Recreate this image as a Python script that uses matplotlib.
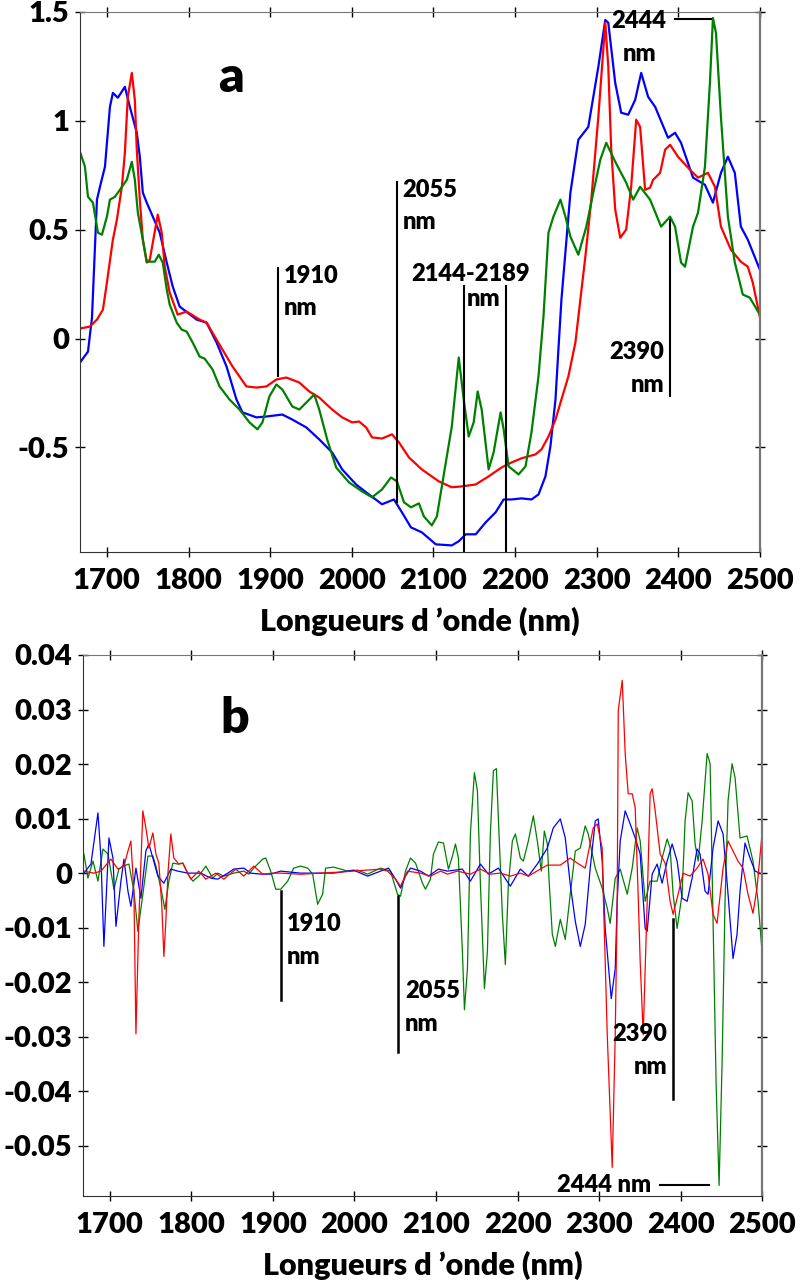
import matplotlib
matplotlib.use("Agg")
import matplotlib.pyplot as plt

plt.rcParams['font.family'] = ['Lato', 'DejaVu Sans']
plt.rcParams['font.weight'] = 'heavy'
plt.rcParams['lines.solid_joinstyle'] = 'round'

# ---- panel a : spectra ----
wl_a_blue = [1667.0, 1676.8, 1681.7, 1687.8, 1691.5, 1697.6, 1703.7, 1707.3, 1713.4, 1722.0, 1728.1, 1736.6,
             1740.3, 1744.0, 1748.8, 1756.2, 1764.7, 1773.3, 1780.6, 1789.1, 1809.9, 1822.1, 1834.3, 1846.5,
             1858.7, 1866.1, 1883.2, 1895.4, 1914.9, 1927.1, 1944.2, 1960.1, 1975.9, 1988.2, 2005.2, 2017.5,
             2037.0, 2051.6, 2061.4, 2072.4, 2085.8, 2102.9, 2122.5, 2131.0, 2139.6, 2151.8, 2164.0, 2176.2,
             2186.0, 2195.7, 2207.9, 2220.1, 2228.7, 2237.2, 2243.3, 2249.5, 2253.1, 2256.8, 2267.8, 2277.5,
             2289.7, 2302.0, 2310.5, 2314.2, 2322.7, 2330.0, 2338.6, 2347.1, 2354.5, 2363.0, 2371.6, 2387.4,
             2396.0, 2403.3, 2418.0, 2432.6, 2442.4, 2452.2, 2460.7, 2469.2, 2476.6, 2485.1, 2499.8]
a_blue = [-0.110, -0.060, 0.096, 0.638, 0.697, 0.789, 1.064, 1.128, 1.106, 1.156, 1.064, 0.945,
          0.835, 0.670, 0.624, 0.560, 0.486, 0.349, 0.239, 0.147, 0.087, 0.073, -0.018, -0.128,
          -0.280, -0.339, -0.362, -0.358, -0.349, -0.372, -0.408, -0.463, -0.523, -0.601, -0.670, -0.706,
          -0.761, -0.739, -0.798, -0.867, -0.890, -0.945, -0.950, -0.931, -0.899, -0.899, -0.844, -0.798,
          -0.739, -0.739, -0.734, -0.739, -0.716, -0.633, -0.495, -0.280, -0.050, 0.179, 0.670, 0.913,
          0.972, 1.248, 1.463, 1.450, 1.174, 1.037, 1.028, 1.096, 1.220, 1.110, 1.064, 0.922,
          0.945, 0.899, 0.739, 0.706, 0.624, 0.761, 0.835, 0.761, 0.514, 0.454, 0.317]

wl_a_red = [1667.0, 1679.2, 1687.8, 1695.1, 1700.0, 1707.3, 1712.2, 1718.3, 1722.0, 1725.6, 1730.5, 1734.2,
            1736.6, 1740.3, 1744.0, 1748.8, 1752.5, 1756.2, 1762.3, 1767.2, 1770.8, 1776.9, 1786.7, 1797.7,
            1813.6, 1822.1, 1834.3, 1853.8, 1870.9, 1883.2, 1895.4, 1907.6, 1919.8, 1935.7, 1947.9, 1960.1,
            1975.9, 1988.2, 2000.4, 2008.9, 2017.5, 2024.8, 2037.0, 2049.2, 2057.8, 2070.0, 2085.8, 2106.6,
            2122.5, 2134.7, 2151.8, 2167.6, 2183.5, 2195.7, 2207.9, 2225.0, 2232.4, 2240.9, 2249.5, 2256.8,
            2265.3, 2273.9, 2286.1, 2293.4, 2302.0, 2310.5, 2314.2, 2317.8, 2322.7, 2328.8, 2336.1, 2342.2,
            2348.4, 2353.2, 2359.3, 2365.4, 2369.1, 2377.7, 2383.8, 2389.9, 2399.6, 2414.3, 2424.1, 2436.3,
            2444.8, 2452.2, 2464.4, 2476.6, 2485.1, 2491.2, 2499.8]
a_red = [0.046, 0.055, 0.087, 0.133, 0.257, 0.454, 0.546, 0.697, 0.853, 1.110, 1.220, 1.096,
         0.867, 0.638, 0.454, 0.349, 0.362, 0.440, 0.569, 0.486, 0.330, 0.211, 0.110, 0.124,
         0.087, 0.073, -0.005, -0.128, -0.220, -0.225, -0.220, -0.188, -0.179, -0.202, -0.243, -0.271,
         -0.326, -0.362, -0.385, -0.381, -0.408, -0.454, -0.459, -0.440, -0.477, -0.546, -0.601, -0.656,
         -0.683, -0.679, -0.670, -0.633, -0.592, -0.569, -0.550, -0.532, -0.509, -0.450, -0.372, -0.280,
         -0.174, -0.018, 0.376, 0.638, 1.018, 1.450, 1.248, 0.867, 0.592, 0.463, 0.500, 0.697,
         1.005, 0.972, 0.683, 0.693, 0.729, 0.761, 0.867, 0.890, 0.835, 0.775, 0.739, 0.761,
         0.697, 0.514, 0.408, 0.353, 0.330, 0.257, 0.101]

wl_a_green = [1667.0, 1673.1, 1676.8, 1682.9, 1689.0, 1693.9, 1700.0, 1703.7, 1709.8, 1715.9, 1724.4, 1730.5,
              1734.2, 1737.9, 1744.0, 1748.8, 1758.6, 1763.5, 1768.4, 1773.3, 1776.9, 1785.5, 1791.6, 1797.7,
              1805.0, 1813.6, 1819.7, 1829.4, 1838.0, 1850.2, 1862.4, 1874.6, 1884.4, 1890.5, 1899.0, 1907.6,
              1914.9, 1927.1, 1935.7, 1944.2, 1954.0, 1960.1, 1969.8, 1980.8, 1996.7, 2012.6, 2024.8, 2037.0,
              2048.0, 2055.3, 2063.9, 2072.4, 2082.2, 2088.3, 2098.0, 2104.2, 2110.3, 2116.4, 2122.5, 2131.0,
              2137.1, 2143.2, 2149.3, 2154.2, 2159.1, 2167.6, 2173.7, 2182.3, 2186.0, 2192.1, 2204.3, 2212.8,
              2220.1, 2228.7, 2234.8, 2240.9, 2247.0, 2255.6, 2261.7, 2267.8, 2277.5, 2287.3, 2295.8, 2304.4,
              2311.7, 2322.7, 2336.1, 2344.7, 2353.2, 2365.4, 2378.9, 2389.9, 2396.0, 2403.3, 2408.2, 2418.0,
              2424.1, 2432.6, 2438.7, 2442.4, 2446.1, 2452.2, 2460.7, 2469.2, 2479.0, 2487.5, 2494.8, 2499.8]
a_green = [0.858, 0.789, 0.651, 0.624, 0.486, 0.477, 0.560, 0.638, 0.651, 0.683, 0.729, 0.812,
           0.729, 0.578, 0.454, 0.353, 0.353, 0.385, 0.349, 0.225, 0.156, 0.073, 0.041, 0.032,
           -0.018, -0.083, -0.092, -0.142, -0.220, -0.280, -0.326, -0.385, -0.417, -0.385, -0.266, -0.211,
           -0.234, -0.312, -0.326, -0.294, -0.257, -0.326, -0.463, -0.592, -0.661, -0.702, -0.729, -0.693,
           -0.638, -0.656, -0.752, -0.775, -0.757, -0.817, -0.858, -0.817, -0.679, -0.541, -0.404, -0.087,
           -0.280, -0.450, -0.385, -0.243, -0.326, -0.601, -0.523, -0.339, -0.417, -0.587, -0.624, -0.587,
           -0.431, -0.174, 0.101, 0.486, 0.560, 0.638, 0.560, 0.468, 0.385, 0.514, 0.670, 0.821,
           0.899, 0.812, 0.716, 0.638, 0.697, 0.638, 0.514, 0.560, 0.514, 0.349, 0.330, 0.514,
           0.578, 0.789, 1.174, 1.472, 1.404, 1.018, 0.560, 0.349, 0.202, 0.188, 0.142, 0.110]

# ---- panel b : derivatives ----
wl_b_blue = [1668.1, 1676.7, 1685.3, 1689.0, 1692.6, 1698.8, 1703.7, 1707.4, 1713.5, 1717.2, 1722.1, 1725.7,
             1731.9, 1738.0, 1744.1, 1747.8, 1752.7, 1758.8, 1766.2, 1774.7, 1783.3, 1795.6, 1811.5, 1823.7,
             1832.3, 1844.6, 1851.9, 1864.2, 1872.7, 1885.0, 1897.2, 1909.5, 1934.0, 1974.4, 1998.9, 2016.1,
             2032.0, 2041.8, 2050.4, 2056.5, 2062.6, 2068.7, 2081.0, 2090.8, 2103.0, 2114.1, 2132.4, 2142.2,
             2154.5, 2164.3, 2176.5, 2191.2, 2203.5, 2213.3, 2224.3, 2236.6, 2243.9, 2252.5, 2258.6, 2264.7,
             2270.9, 2277.0, 2283.1, 2289.2, 2295.4, 2299.0, 2303.9, 2307.6, 2315.0, 2319.9, 2322.3, 2326.0,
             2332.1, 2338.2, 2344.4, 2350.5, 2356.6, 2359.1, 2365.2, 2371.3, 2377.4, 2383.6, 2389.7, 2395.8,
             2401.9, 2408.1, 2414.2, 2420.3, 2424.0, 2430.1, 2433.8, 2439.9, 2446.1, 2452.2, 2458.3, 2464.4,
             2469.3, 2473.0, 2479.1, 2485.3, 2491.4, 2500.0]
b_blue = [0.0, 0.00166, 0.01105, 0.00276, -0.01344, 0.00645, 0.00276, -0.00976, -0.00147, 0.00258, -0.00331, -0.00608,
          0.00092, -0.0046, 0.00405, 0.00534, 0.00276, -0.00055, -0.00184, 0.00074, 0.00037, 0.0, 0.0, -0.00092,
          -0.0011, 0.0, 0.00074, 0.00092, 0.0, -0.00018, -0.00018, 0.00037, 0.0, 0.0, 0.00055, -0.00055,
          0.00037, 0.00092, -0.0011, -0.00276, -0.00055, 0.00092, 0.00037, -0.00055, 0.00074, 0.00037, 0.00074, -0.00147,
          0.00166, -0.00018, 0.00092, -0.00239, 0.00074, -0.00055, 0.00166, 0.0046, 0.00829, 0.00994, 0.00645, -0.00203,
          -0.00884, -0.01344, -0.00939, 0.00092, 0.00958, 0.00994, 0.00221, -0.01013, -0.02302, -0.0175, -0.00516, 0.00589,
          0.01142, 0.00902, 0.00645, 0.0035, -0.01013, -0.01068, -0.00018, 0.00166, -0.00184, 0.00221, 0.00534, 0.00221,
          -0.0046, -0.00516, -0.00092, 0.00442, 0.0035, -0.00331, -0.00387, 0.0046, 0.00958, 0.00718, -0.00387, -0.01565,
          -0.01123, -0.00331, 0.00552, 0.00276, 0.00037, -0.00018]

wl_b_red = [1668.1, 1680.4, 1689.0, 1701.2, 1709.8, 1717.2, 1722.1, 1725.7, 1729.4, 1731.9, 1735.5, 1740.4,
            1744.1, 1747.8, 1752.7, 1756.4, 1760.0, 1763.7, 1766.2, 1768.6, 1771.1, 1774.7, 1778.4, 1784.5,
            1789.4, 1799.2, 1809.0, 1817.6, 1829.9, 1839.7, 1854.4, 1864.2, 1876.4, 1887.4, 1899.7, 1909.5,
            1934.0, 1983.0, 2032.0, 2040.6, 2050.4, 2056.5, 2065.1, 2081.0, 2093.2, 2105.5, 2114.1, 2126.3,
            2142.2, 2154.5, 2166.7, 2179.0, 2191.2, 2203.5, 2213.3, 2228.0, 2236.6, 2252.5, 2264.7, 2273.3,
            2283.1, 2292.9, 2297.8, 2303.9, 2305.2, 2307.6, 2310.1, 2316.2, 2319.9, 2322.3, 2323.6, 2328.5,
            2332.1, 2335.8, 2340.7, 2344.4, 2348.0, 2350.5, 2354.2, 2359.1, 2362.7, 2365.2, 2368.9, 2375.0,
            2381.1, 2387.2, 2390.9, 2397.0, 2403.2, 2411.7, 2420.3, 2427.6, 2433.8, 2439.9, 2444.8, 2452.2,
            2458.3, 2464.4, 2470.5, 2476.7, 2482.8, 2488.9, 2493.8, 2500.0]
b_red = [0.00037, 0.0, 0.00037, 0.00258, 0.00074, 0.00129, 0.00405, 0.00589, -0.00331, -0.02947, -0.00829, 0.01142,
         0.00829, 0.0046, 0.00737, 0.0035, 0.00184, -0.0061, -0.01529, -0.00884, -0.00018, 0.00718, 0.00276, 0.00166,
         0.00184, -0.0011, 0.00037, -0.0011, 0.0, -0.0011, 0.00074, -0.00055, 0.00129, -0.00018, 0.0, 0.0,
         -0.0002, 0.0002, 0.00074, 0.00037, -0.0011, -0.00239, 0.00037, 0.0, -0.00055, 0.00037, -0.00018, 0.00037,
         -0.00018, 0.00074, -0.00018, 0.0, -0.00055, 0.0, -0.00055, 0.00074, 0.00147, 0.00147, 0.00276, 0.00184,
         0.00092, 0.00829, 0.00902, 0.0046, -0.00387, -0.01621, -0.02965, -0.05396, -0.02965, -0.00516, 0.02983, 0.03536,
         0.02192, 0.01455, 0.01455, 0.01197, -0.00387, -0.01621, -0.02965, -0.00516, 0.01455, 0.01547, 0.01142, 0.0035,
         0.00184, -0.00516, -0.00755, -0.00387, 0.0, -0.00055, 0.00092, 0.00258, -0.00018, -0.00755, -0.00921, 0.00092,
         0.00589, 0.00405, 0.00221, 0.00092, -0.00387, -0.00737, -0.00276, 0.0072]

wl_b_green = [1668.1, 1673.0, 1679.2, 1685.3, 1691.4, 1697.6, 1704.9, 1711.0, 1715.9, 1723.3, 1729.4, 1734.3,
              1740.4, 1746.6, 1752.7, 1756.4, 1762.5, 1767.4, 1772.3, 1777.2, 1783.3, 1789.4, 1795.6, 1801.7,
              1809.0, 1817.6, 1826.2, 1832.3, 1839.7, 1851.9, 1864.2, 1870.3, 1876.4, 1887.4, 1891.1, 1897.2,
              1903.4, 1909.5, 1918.1, 1925.4, 1934.0, 1942.6, 1948.7, 1954.8, 1960.9, 1964.6, 1974.4, 1991.6,
              2003.8, 2016.1, 2032.0, 2044.2, 2052.8, 2056.5, 2062.6, 2068.7, 2074.9, 2083.4, 2087.1, 2093.2,
              2096.9, 2103.0, 2109.2, 2115.3, 2120.2, 2123.9, 2127.5, 2132.4, 2134.9, 2138.6, 2142.2, 2147.1,
              2150.8, 2154.5, 2159.4, 2163.1, 2166.7, 2170.4, 2174.1, 2176.5, 2181.4, 2185.1, 2188.8, 2193.7,
              2197.4, 2203.5, 2207.2, 2213.3, 2219.4, 2224.3, 2229.2, 2232.9, 2236.6, 2239.0, 2242.7, 2246.4,
              2252.5, 2258.6, 2264.7, 2270.9, 2277.0, 2283.1, 2286.8, 2295.4, 2303.9, 2310.1, 2313.7, 2319.9,
              2326.0, 2334.6, 2340.7, 2346.8, 2350.5, 2356.6, 2362.7, 2371.3, 2377.4, 2383.6, 2387.2, 2390.9,
              2395.8, 2401.9, 2405.6, 2409.3, 2414.2, 2417.9, 2421.6, 2426.5, 2432.6, 2436.3, 2439.9, 2443.6,
              2447.3, 2451.0, 2454.6, 2458.3, 2463.2, 2466.9, 2473.0, 2481.6, 2488.9, 2495.1, 2500.0]
b_green = [0.0035, -0.00092, 0.00221, -0.00147, 0.00442, 0.0035, -0.00295, 0.00074, 0.00129, 0.00166, -0.00331, -0.01068,
           -0.00387, 0.00313, 0.00313, 0.00129, -0.00276, -0.00663, -0.00147, 0.00184, 0.00166, 0.00184, -0.00018, -0.00147,
           -0.00055, 0.00129, -0.00092, 0.0, -0.00055, 0.0, 0.00037, -0.00018, 0.00092, 0.00258, 0.00276, 0.00037,
           -0.00295, -0.00295, -0.00147, 0.00092, 0.00129, 0.00092, -0.00018, -0.00571, -0.00387, 0.00092, 0.0011, 0.00037,
           0.00055, -0.00018, 0.00092, 0.00037, -0.00387, -0.00424, 0.00037, 0.00276, 0.00184, -0.00184, -0.00295, -0.0011,
           0.0035, 0.00571, 0.00552, 0.00074, 0.00313, 0.00534, 0.00276, -0.01436, -0.02505, -0.0175, 0.00718, 0.01842,
           0.0151, -0.00203, -0.02118, -0.01436, 0.00718, 0.01878, 0.01915, 0.01013, -0.00755, -0.01676, -0.00203, 0.00589,
           0.00718, 0.00276, 0.00221, 0.00589, 0.0105, 0.00589, 0.00037, 0.00773, 0.00534, -0.00203, -0.01123, -0.01344,
           -0.00847, -0.01215, -0.00387, 0.00405, 0.0046, 0.00866, 0.00718, 0.00092, -0.00276, -0.00645, -0.00921, -0.00092,
           0.00074, -0.00387, 0.00092, 0.00829, 0.00589, -0.00516, -0.00147, -0.00147, 0.00276, 0.00626, 0.0046, -0.00387,
           -0.01013, -0.00387, 0.00958, 0.01473, 0.01326, 0.00534, 0.00221, 0.00958, 0.02192, 0.02007, -0.00884, -0.0383,
           -0.05727, -0.03462, -0.00516, 0.01326, 0.02007, 0.0175, 0.00645, 0.00681, 0.00221, -0.00516, -0.01436]

# band markers: (wavelength, y from, y to)
marks_a = [(1910, -0.17, 0.325), (2055, -0.75, 0.72), (2137, -0.98, 0.24), (2189, -0.98, 0.24), (2390, -0.266, 0.546)]
marks_b = [(1910, -0.0233, -0.0033), (2053, -0.0328, -0.0042), (2391, -0.0414, -0.0085)]

COL_BLUE, COL_RED, COL_GREEN = '#0000ff', '#ff0000', '#008000'

fig = plt.figure(figsize=(8.03, 12.83), dpi=100)
ax1 = fig.add_axes([0.0996, 0.5698, 0.8468, 0.4209])
ax2 = fig.add_axes([0.1034, 0.0678, 0.8456, 0.4217])

ax1.plot(wl_a_blue, a_blue, color=COL_BLUE, lw=1.6)
ax1.plot(wl_a_red, a_red, color=COL_RED, lw=1.6)
ax1.plot(wl_a_green, a_green, color=COL_GREEN, lw=1.6)

ax2.plot(wl_b_green, b_green, color=COL_GREEN, lw=0.9)
ax2.plot(wl_b_blue, b_blue, color=COL_BLUE, lw=0.9)
ax2.plot(wl_b_red, b_red, color=COL_RED, lw=0.9)

for x, y0, y1 in marks_a:
    ax1.plot([x, x], [y0, y1], color='black', lw=1.5)
ax1.plot([2396, 2440], [1.468, 1.468], color='black', lw=1.5)
for x, y0, y1 in marks_b:
    ax2.plot([x, x], [y0, y1], color='black', lw=1.8)
ax2.plot([2375, 2435], [-0.0571, -0.0571], color='black', lw=1.5)

ann = dict(fontsize=17, fontweight='heavy', linespacing=1.6)
ax1.text(1917, 0.34, "1910\nnm", va='top', ha='left', **ann)
ax1.text(2062, 0.735, "2055\nnm", va='top', ha='left', **ann)
ax1.text(2146, 0.345, "2144-2189", va='top', ha='center', **ann)
ax1.text(2141, 0.23, "nm", va='top', ha='left', **ann)
ax1.text(2383, -0.01, "2390\nnm", va='top', ha='right', **ann)
ax1.text(2352, 1.51, "2444\nnm", va='top', ha='center', **ann)
ax1.text(1852, 1.20, "a", fontsize=36, fontweight='heavy', ha='center', va='center')

ax2.text(1917, -0.0123, "1910\nnm", va='center', ha='left', **ann)
ax2.text(2062, -0.0246, "2055\nnm", va='center', ha='left', **ann)
ax2.text(2384, -0.0325, "2390\nnm", va='center', ha='right', **ann)
ax2.text(2364, -0.0571, "2444 nm", va='center', ha='right', **ann)
ax2.text(1853, 0.0284, "b", fontsize=36, fontweight='heavy', ha='center', va='center')

ax1.set_ylim(-0.98, 1.5)
ax1.set_yticks([-0.5, 0, 0.5, 1, 1.5])
ax1.set_yticklabels(['-0.5', '0', '0.5', '1', '1.5'])
ax2.set_ylim(-0.0592, 0.04)
ax2.set_yticks([-0.05, -0.04, -0.03, -0.02, -0.01, 0, 0.01, 0.02, 0.03, 0.04])
ax2.set_yticklabels(['-0.05', '-0.04', '-0.03', '-0.02', '-0.01', '0', '0.01', '0.02', '0.03', '0.04'])

for ax in (ax1, ax2):
    ax.set_xlim(1667, 2500)
    ax.set_xticks([1700, 1800, 1900, 2000, 2100, 2200, 2300, 2400, 2500])
    ax.tick_params(axis='both', direction='inout', length=7, width=1, labelsize=21,
                   top=True, right=True)
    ax.tick_params(axis='x', pad=8)
    ax.tick_params(axis='y', pad=4)
    for lab in ax.get_xticklabels() + ax.get_yticklabels():
        lab.set_fontweight('heavy')
    ax.spines['left'].set_color('#333333')
    ax.spines['bottom'].set_color('#333333')
    ax.spines['top'].set_color('#777777')
    ax.spines['right'].set_color('#777777')
    ax.spines['right'].set_linewidth(1.6)
    ax.set_xlabel("Longueurs d \u2019onde (nm)", fontsize=22, fontweight='heavy', labelpad=9)

fig.savefig("out.png", dpi=100)
